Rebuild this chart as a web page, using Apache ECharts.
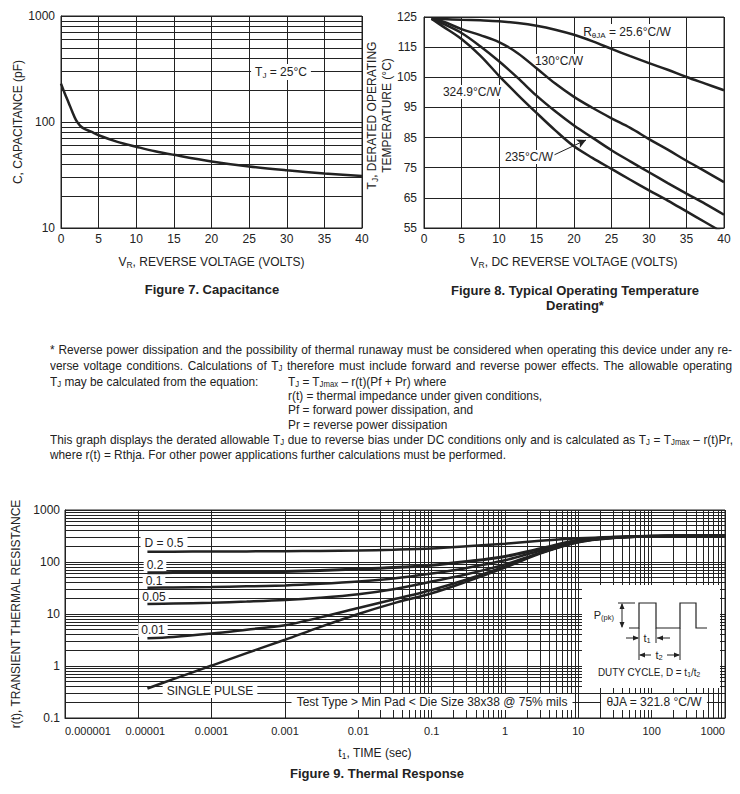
<!DOCTYPE html>
<html><head><meta charset="utf-8">
<script src="https://cdn.jsdelivr.net/npm/echarts@6/dist/echarts.min.js"></script>
<style>
html,body{margin:0;padding:0;background:#fff;}
#chart{position:absolute;left:0;top:0;width:740px;height:794px;}
#para{position:absolute;left:0;top:0;width:740px;height:0;font-family:'Liberation Sans',Arial,Helvetica,sans-serif;font-size:13px;color:#222;}
.ln{position:absolute;white-space:nowrap;transform-origin:0 50%;line-height:13px;display:inline-block;}
.ln sub{font-size:8.5px;vertical-align:-1px;line-height:0;}
</style></head><body>
<div id="chart"></div>
<div id="para">
<span class="ln" data-x="50" data-y="349" data-w="682" data-j="1">* Reverse power dissipation and the possibility of thermal runaway must be considered when operating this device under any re-</span>
<span class="ln" data-x="50" data-y="365" data-w="682" data-j="1">verse voltage conditions. Calculations of T<sub>J</sub> therefore must include forward and reverse power effects. The allowable operating</span>
<span class="ln" data-x="50" data-y="381">T<sub>J</sub> may be calculated from the equation:</span>
<span class="ln" data-x="288" data-y="381">T<sub>J</sub> = T<sub>Jmax</sub> – r(t)(Pf + Pr) where</span>
<span class="ln" data-x="288" data-y="395">r(t) = thermal impedance under given conditions,</span>
<span class="ln" data-x="288" data-y="409">Pf = forward power dissipation, and</span>
<span class="ln" data-x="288" data-y="424">Pr = reverse power dissipation</span>
<span class="ln" data-x="50" data-y="439" data-w="683" data-j="1">This graph displays the derated allowable T<sub>J</sub> due to reverse bias under DC conditions only and is calculated as T<sub>J</sub> = T<sub>Jmax</sub> – r(t)Pr,</span>
<span class="ln" id="lastLine" data-x="50" data-y="454" data-w="456">where r(t) = Rthja. For other power applications further calculations must be performed.</span>
</div>
<script>
// ---------- Figure 7: capacitance ----------
const vr7  = [0, 0.5, 1, 1.5, 2, 2.5, 3, 4, 5, 7.5, 10, 12.5, 15, 20, 25, 30, 35, 40];
const cap7 = [230, 186, 153, 125, 104, 93, 87, 81, 75, 65, 58.5, 53, 49, 42.5, 38, 35, 32.7, 31];
const capTickLabels = ['10', '100', '1000'];

// ---------- Figure 8: derating ----------
const vr8   = [1, 2.5, 5, 7.5, 10, 12.5, 15, 17.5, 20, 22.5, 25, 27.5, 30, 32.5, 35, 37.5, 40];
const t256  = [124.4, 124.3, 124.1, 123.9, 123.6, 123.0, 122.1, 120.8, 119.1, 116.9, 114.4, 112.0, 109.7, 107.5, 105.1, 102.9, 100.7];
const t130  = [124.4, 123.5, 121.0, 119.0, 116.7, 113.0, 108.0, 102.9, 98.5, 94.8, 91.4, 88.2, 84.5, 81.0, 77.3, 73.8, 70.2];
const t235  = [124.4, 122.8, 119.7, 115.3, 110.3, 104.8, 98.9, 93.7, 89.0, 84.9, 80.8, 77.1, 73.5, 69.9, 66.4, 63.0, 59.4];
const t3249 = [124.4, 121.9, 117.7, 112.2, 105.5, 99.2, 93.2, 87.4, 82.1, 78.2, 74.6, 71.0, 67.5, 64.1, 60.5, 56.9, 53.3];
const tempTickLabels = ['55', '65', '75', '85', '95', '105', '115', '125'];

// ---------- Figure 9: thermal response ----------
const t9     = [1.33e-5, 3e-5, 1e-4, 3e-4, 1e-3, 3e-3, 1e-2, 3e-2, 0.1, 0.3, 1, 3, 10, 30, 100, 300, 1000];
const rD05   = [157, 158, 159, 160, 161, 163, 166, 172, 182, 200, 225, 255, 285, 303, 315, 320, 322];
const rD02   = [62, 62.5, 63, 64.5, 66, 69, 73, 78, 87, 102, 128, 180, 262, 298, 315, 320, 322];
const rD01   = [32, 32.5, 33, 34, 35.5, 38, 42, 48, 60, 77, 108, 165, 252, 295, 314, 320, 322];
const rD005  = [15.6, 15.9, 16.5, 17.3, 18.5, 20.5, 24, 30, 42, 58, 90, 150, 245, 292, 313, 320, 322];
const rD001  = [3.4, 3.6, 4.2, 5.0, 6.1, 8.6, 13, 19, 29, 46, 82, 148, 242, 291, 312, 320, 322];
const rSingle= [0.37, 0.56, 1.02, 1.77, 3.2, 5.6, 10, 16, 25, 42, 78, 145, 240, 290, 312, 320, 322];
const timeTickLabels = ['0.000001', '0.00001', '0.0001', '0.001', '0.01', '0.1', '1', '10', '100', '1000'];
const rTickLabels = ['0.1', '1', '10', '100', '1000'];

const FONT = "'Liberation Sans', Arial, Helvetica, sans-serif";
const INK = '#222';

function minorLog(e0, e1) {
  const out = [];
  for (let e = e0; e < e1; e++) for (let m = 2; m <= 9; m++) out.push(Number((m * Math.pow(10, e)).toPrecision(3)));
  return out;
}
const richBase = {
  a: {fontSize: 12, fontFamily: FONT, color: INK, lineHeight: 15},
  s: {fontSize: 8.5, fontFamily: FONT, color: INK, lineHeight: 7, verticalAlign: 'bottom'}
};
function nameStyle(extra) {
  return Object.assign({fontSize: 12, fontFamily: FONT, color: INK, rich: richBase}, extra || {});
}
function baseAxis(extra) {
  return Object.assign({
    axisLine: {show: true, lineStyle: {color: INK, width: 1}},
    axisTick: {show: false},
    splitLine: {show: true, lineStyle: {color: INK, width: 1}},
    nameLocation: 'middle',
    nameTextStyle: nameStyle()
  }, extra);
}
function labelStyle(extra) {
  return Object.assign({color: INK, fontSize: 12, fontFamily: FONT}, extra);
}
const gridMark = (xs, ys) => ({
  silent: true, symbol: ['none', 'none'], animation: false, z: 1,
  label: {show: false}, emphasis: {disabled: true},
  lineStyle: {color: INK, width: 1, type: 'solid', opacity: 1},
  data: [].concat((xs || []).map(v => ({xAxis: v})), (ys || []).map(v => ({yAxis: v})))
});
const curve = (xi, yi, data, w) => ({
  type: 'line', xAxisIndex: xi, yAxisIndex: yi, data: data,
  showSymbol: false, smooth: 0.35, z: 4, silent: true,
  lineStyle: {color: INK, width: w || 2.5}
});

const series = [
  {type: 'line', xAxisIndex: 0, yAxisIndex: 0, data: [], z: 1, silent: true, markLine: gridMark(null, minorLog(1, 3))},
  curve(0, 0, vr7.map((v, i) => [v, cap7[i]])),
  curve(1, 1, vr8.map((v, i) => [v, t256[i]])),
  curve(1, 1, vr8.map((v, i) => [v, t130[i]])),
  Object.assign(curve(1, 1, vr8.map((v, i) => [v, t235[i]])), {
    markLine: {silent: true, animation: false, z: 5, symbol: ['none', 'arrow'], symbolSize: [7, 9],
      label: {show: false}, lineStyle: {color: INK, width: 1, type: 'solid'},
      data: [[{coord: [17.4, 79.3]}, {coord: [21.6, 84.2]}]]}
  }),
  curve(1, 1, vr8.map((v, i) => [v, t3249[i]])),
  {type: 'line', xAxisIndex: 2, yAxisIndex: 2, data: [], z: 1, silent: true, markLine: gridMark(minorLog(-6, 3), minorLog(-1, 3))},
  curve(2, 2, t9.map((t, i) => [t, rD05[i]])),
  curve(2, 2, t9.map((t, i) => [t, rD02[i]]), 3),
  curve(2, 2, t9.map((t, i) => [t, rD01[i]])),
  curve(2, 2, t9.map((t, i) => [t, rD005[i]])),
  curve(2, 2, t9.map((t, i) => [t, rD001[i]])),
  curve(2, 2, t9.map((t, i) => [t, rSingle[i]]))
];

function txt(x, y, text, opt) {
  opt = opt || {};
  return {
    type: 'text', x: x, y: y, z: opt.z || 3, silent: true,
    scaleX: opt.scaleX || 1,
    style: Object.assign({
      text: text, fill: INK, fontSize: opt.size || 12, fontFamily: FONT,
      fontWeight: opt.bold ? 'bold' : 'normal',
      align: opt.align || 'center', verticalAlign: 'middle',
      textAlign: opt.align || 'center', textVerticalAlign: 'middle',
      backgroundColor: opt.bg || null, padding: opt.pad || 0,
      rich: opt.rich || undefined
    })
  };
}
const rich12 = {
  a: {fontSize: 12, fontFamily: FONT, color: INK, lineHeight: 14},
  s: {fontSize: 8, fontFamily: FONT, color: INK, lineHeight: 7, verticalAlign: 'bottom'}
};
const rich11 = {
  a: {fontSize: 11, fontFamily: FONT, color: INK, lineHeight: 13},
  s: {fontSize: 7.5, fontFamily: FONT, color: INK, lineHeight: 6, verticalAlign: 'bottom'}
};
const ln = (x1, y1, x2, y2, w) => ({type: 'line', z: 6, silent: true, shape: {x1, y1, x2, y2}, style: {stroke: INK, lineWidth: w || 1}});
function head(x, y, dir) {
  const L = 6, H = 2.5;
  let pts;
  if (dir === 'r') pts = [[x, y], [x - L, y - H], [x - L, y + H]];
  if (dir === 'l') pts = [[x, y], [x + L, y - H], [x + L, y + H]];
  if (dir === 'u') pts = [[x, y], [x - H, y + L], [x + H, y + L]];
  if (dir === 'd') pts = [[x, y], [x - H, y - L], [x + H, y - L]];
  return {type: 'polygon', z: 6, silent: true, shape: {points: pts}, style: {fill: INK}};
}

const graphic = [
  // Figure 7
  txt(281, 72, '{a|T}{s|J}{a| = 25°C}', {bg: '#fff', pad: [1, 4], rich: rich12}),
  txt(212, 289, 'Figure 7. Capacitance', {bold: true, size: 13}),
  // Figure 8
  txt(627, 32, '{a|R}{s|θJA}{a| = 25.6°C/W}', {bg: '#fff', pad: [1, 3], rich: rich12}),
  txt(559, 61, '130°C/W', {bg: '#fff', pad: [1, 2]}),
  txt(472, 92, '324.9°C/W', {bg: '#fff', pad: [1, 2]}),
  txt(529, 157, '235°C/W', {bg: '#fff', pad: [1, 2]}),
  txt(575, 290, 'Figure 8. Typical Operating Temperature', {bold: true, size: 13}),
  txt(575, 305, 'Derating*', {bold: true, size: 13}),
  // Figure 9 labels
  txt(164, 543, 'D = 0.5', {bg: '#fff', pad: [1, 4]}),
  txt(155, 565, '0.2', {bg: '#fff', pad: [0, 3]}),
  txt(154, 581, '0.1', {bg: '#fff', pad: [0, 3]}),
  txt(154, 597, '0.05', {bg: '#fff', pad: [0, 3]}),
  txt(153, 630, '0.01', {bg: '#fff', pad: [1, 3]}),
  txt(210, 691, 'SINGLE PULSE', {bg: '#fff', pad: [1, 4]}),
  txt(432, 702, 'Test Type > Min Pad < Die Size 38x38 @ 75% mils', {bg: '#fff', pad: [2, 5]}),
  txt(654, 702, 'θJA = 321.8 °C/W', {bg: '#fff', pad: [2, 5]}),
  txt(377, 773, 'Figure 9. Thermal Response', {bold: true, size: 13}),
  // inset
  {type: 'rect', z: 3, silent: true, shape: {x: 582, y: 585, width: 138, height: 103}, style: {fill: '#fff'}},
  txt(614, 615, '{a|P}{s|(pk)}', {align: 'right', rich: rich11, z: 6}),
  ln(622, 604, 622, 627), head(622, 603, 'u'), head(622, 628, 'd'),
  ln(618, 603, 635, 603),
  {type: 'polyline', z: 6, silent: true, shape: {points: [[629, 628], [639, 628], [639, 603], [656, 603], [656, 628], [680, 628], [680, 603], [696, 603], [696, 628], [707, 628]]}, style: {stroke: INK, lineWidth: 1.2, fill: null}},
  ln(639, 628, 639, 660), ln(656, 628, 656, 643), ln(680, 628, 680, 660),
  ln(626, 638, 638, 638), head(639, 638, 'r'),
  txt(647, 638, '{a|t}{s|1}', {rich: rich11, z: 6}),
  ln(657, 638, 670, 638), head(657, 638, 'l'),
  ln(640, 655, 651, 655), head(639, 655, 'l'),
  txt(659, 655, '{a|t}{s|2}', {rich: rich11, z: 6}),
  ln(667, 655, 679, 655), head(680, 655, 'r'),
  txt(649, 672, '{a|DUTY CYCLE, D = t}{s|1}{a|/t}{s|2}', {rich: rich11, scaleX: 0.9, z: 6})
];

const option = {
  animation: false,
  backgroundColor: '#fff',
  grid: [
    {left: 61, top: 16, width: 301, height: 212, show: true, borderColor: INK, borderWidth: 1, backgroundColor: 'transparent'},
    {left: 424, top: 17, width: 300, height: 211, show: true, borderColor: INK, borderWidth: 1, backgroundColor: 'transparent'},
    {left: 65, top: 510, width: 660, height: 208, show: true, borderColor: INK, borderWidth: 1, backgroundColor: 'transparent'}
  ],
  xAxis: [
    baseAxis({type: 'value', gridIndex: 0, min: 0, max: 40, interval: 5,
      axisLabel: labelStyle({margin: 5}),
      name: '{a|V}{s|R}{a|, REVERSE VOLTAGE (VOLTS)}', nameGap: 26}),
    baseAxis({type: 'value', gridIndex: 1, min: 0, max: 40, interval: 5,
      axisLabel: labelStyle({margin: 5}),
      name: '{a|V}{s|R}{a|, DC REVERSE VOLTAGE (VOLTS)}', nameGap: 26}),
    baseAxis({type: 'log', gridIndex: 2, min: 1e-6, max: 1000, logBase: 10, splitNumber: 9,
      axisLabel: labelStyle({margin: 7, fontSize: 11, alignMinLabel: 'left', alignMaxLabel: 'right',
        rich: {p: {fontSize: 11, fontFamily: FONT, color: INK, padding: [0, 0, 0, 14]}},
        formatter: v => {
          const i = Math.round(Math.log10(v)) + 6;
          return i === 1 ? '{p|' + timeTickLabels[i] + '}' : timeTickLabels[i];
        }}),
      name: '{a|t}{s|1}{a|, TIME (sec)}', nameGap: 27,
      nameTextStyle: nameStyle({padding: [0, 40, 0, 0]})})
  ],
  yAxis: [
    baseAxis({type: 'log', gridIndex: 0, min: 10, max: 1000, logBase: 10, splitNumber: 2,
      axisLabel: labelStyle({margin: 6, formatter: v => capTickLabels[Math.round(Math.log10(v)) - 1]}),
      name: 'C, CAPACITANCE (pF)', nameGap: 32}),
    baseAxis({type: 'value', gridIndex: 1, min: 55, max: 125, interval: 10,
      axisLabel: labelStyle({margin: 7, formatter: v => tempTickLabels[Math.round((v - 55) / 10)]}),
      name: '{a|T}{s|J}{a|, DERATED OPERATING}\n{a|TEMPERATURE (°C)}', nameGap: 28,
      nameTextStyle: nameStyle({padding: [0, 0, 0, 14]})}),
    baseAxis({type: 'log', gridIndex: 2, min: 0.1, max: 1000, logBase: 10, splitNumber: 4,
      axisLabel: labelStyle({margin: 5, formatter: v => rTickLabels[Math.round(Math.log10(v)) + 1]}),
      name: 'r(t), TRANSIENT THERMAL RESISTANCE', nameGap: 37})
  ],
  series: series,
  graphic: graphic
};

const chart = echarts.init(document.getElementById('chart'), null, {renderer: 'svg', width: 740, height: 794});
chart.setOption(option);

// paragraph: one uniform horizontal condensation, justified lines filled with word spacing
(function () {
  const lines = Array.from(document.querySelectorAll('#para .ln'));
  lines.forEach(el => {
    el.style.left = el.dataset.x + 'px';
    el.style.top = (+el.dataset.y - 6.5) + 'px';
  });
  const last = document.getElementById('lastLine');
  const s = (+last.dataset.w) / last.getBoundingClientRect().width;
  lines.forEach(el => {
    let sc = s;
    if (el.dataset.j) {
      const nat = el.getBoundingClientRect().width;
      const need = (+el.dataset.w) / s;
      const spaces = (el.textContent.match(/ /g) || []).length;
      if (nat < need && spaces > 0) el.style.wordSpacing = ((need - nat) / spaces).toFixed(3) + 'px';
      else if (nat > need) sc = (+el.dataset.w) / nat;
    }
    el.style.transform = 'scaleX(' + sc.toFixed(4) + ')';
  });
})();
</script>
</body></html>
